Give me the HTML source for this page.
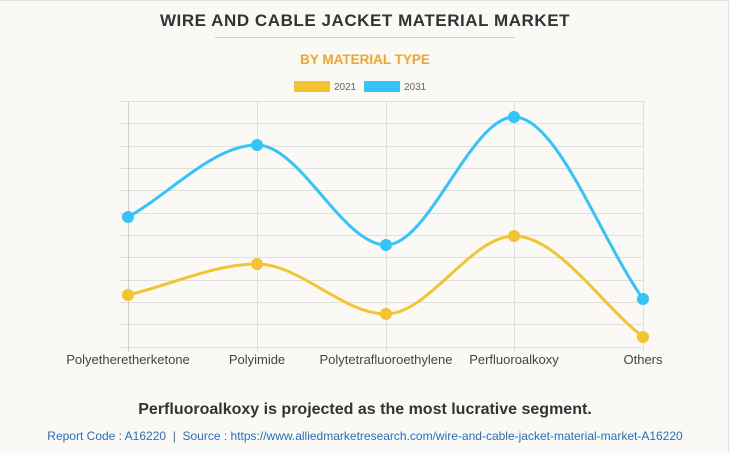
<!DOCTYPE html>
<html><head><meta charset="utf-8"><style>
body{margin:0;width:730px;height:453px;background:#faf9f5;font-family:"Liberation Sans",Arial,sans-serif;overflow:hidden}
</style></head><body>
<svg width="730" height="453" xmlns="http://www.w3.org/2000/svg" style="position:absolute;left:0;top:0">
<rect x="0" y="0" width="730" height="453" fill="#faf9f5"/>
<line x1="0" y1="0.5" x2="730" y2="0.5" stroke="#e4e4e4"/>
<line x1="728.5" y1="0" x2="728.5" y2="453" stroke="#e4e4e4"/>
<text x="365" y="26" text-anchor="middle" font-size="17" font-weight="bold" fill="#333" letter-spacing="0.55">WIRE AND CABLE JACKET MATERIAL MARKET</text>
<line x1="215" y1="37.5" x2="515" y2="37.5" stroke="#ccc"/>
<text x="365" y="64" text-anchor="middle" font-size="13.5" font-weight="bold" fill="#f5a623">BY MATERIAL TYPE</text>
<rect x="294" y="81" width="36" height="11" fill="#f4c430"/>
<text x="334" y="90" font-size="10" fill="#666">2021</text>
<rect x="364" y="81" width="36" height="11" fill="#33c4fc"/>
<text x="404" y="90" font-size="10" fill="#666">2031</text>
<g stroke="#e0dfdb" stroke-width="1">
<line x1="120" y1="101.5" x2="643" y2="101.5"/><line x1="120" y1="123.5" x2="643" y2="123.5"/>
<line x1="120" y1="146.5" x2="643" y2="146.5"/><line x1="120" y1="168.5" x2="643" y2="168.5"/>
<line x1="120" y1="190.5" x2="643" y2="190.5"/><line x1="120" y1="213.5" x2="643" y2="213.5"/>
<line x1="120" y1="235.5" x2="643" y2="235.5"/><line x1="120" y1="257.5" x2="643" y2="257.5"/>
<line x1="120" y1="280.5" x2="643" y2="280.5"/><line x1="120" y1="302.5" x2="643" y2="302.5"/>
<line x1="120" y1="324.5" x2="643" y2="324.5"/><line x1="120" y1="347.5" x2="643" y2="347.5"/>
<line x1="257.5" y1="101" x2="257.5" y2="352"/><line x1="386.5" y1="101" x2="386.5" y2="352"/>
<line x1="514.5" y1="101" x2="514.5" y2="352"/><line x1="643.5" y1="101" x2="643.5" y2="352"/>
</g>
<line x1="128.5" y1="101" x2="128.5" y2="352" stroke="#cfcfcf"/>
<path d="M128,217 C171,193 214,145 257,145 C300,145 343,245 386,245 C429,245 471,117 514,117 C557,117 600,238 643,299" fill="none" stroke="#33c4fc" stroke-width="3"/>
<path d="M128,295 C171,285 214,264 257,264 C300,264 343,314 386,314 C429,314 471,236 514,236 C557,236 600,303 643,337" fill="none" stroke="#f4c430" stroke-width="3"/>
<g fill="#33c4fc"><circle cx="128" cy="217" r="6"/><circle cx="257" cy="145" r="6"/><circle cx="386" cy="245" r="6"/><circle cx="514" cy="117" r="6"/><circle cx="643" cy="299" r="6"/></g>
<g fill="#f4c430"><circle cx="128" cy="295" r="6"/><circle cx="257" cy="264" r="6"/><circle cx="386" cy="314" r="6"/><circle cx="514" cy="236" r="6"/><circle cx="643" cy="337" r="6"/></g>
<g font-size="13" fill="#444" text-anchor="middle">
<text x="128" y="364">Polyetheretherketone</text><text x="257" y="364">Polyimide</text>
<text x="386" y="364">Polytetrafluoroethylene</text><text x="514" y="364">Perfluoroalkoxy</text>
<text x="643" y="364">Others</text></g>
<text x="365" y="414" text-anchor="middle" font-size="16" font-weight="bold" fill="#333">Perfluoroalkoxy is projected as the most lucrative segment.</text>
<text x="365" y="440" text-anchor="middle" font-size="12" fill="#2a6ebb">Report Code : A16220 &#160;|&#160; Source : https://www.alliedmarketresearch.com/wire-and-cable-jacket-material-market-A16220</text>
</svg>
</body></html>
